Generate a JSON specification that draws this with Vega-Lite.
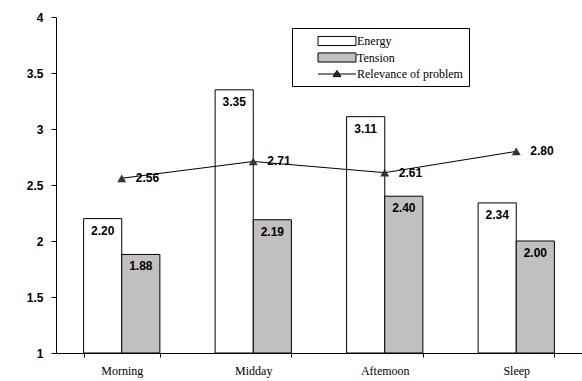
{
  "$schema": "https://vega.github.io/schema/vega-lite/v6.json",
  "width": 526,
  "height": 336,
  "autosize": {"type": "none"},
  "padding": {"left": 56, "top": 17, "right": 0, "bottom": 28},
  "background": "white",
  "config": {"view": {"stroke": null}},
  "datasets": {
    "bars": [
      {"period": "Morning", "series": "Energy", "value": 2.20},
      {"period": "Morning", "series": "Tension", "value": 1.88},
      {"period": "Midday", "series": "Energy", "value": 3.35},
      {"period": "Midday", "series": "Tension", "value": 2.19},
      {"period": "Aftemoon", "series": "Energy", "value": 3.11},
      {"period": "Aftemoon", "series": "Tension", "value": 2.40},
      {"period": "Sleep", "series": "Energy", "value": 2.34},
      {"period": "Sleep", "series": "Tension", "value": 2.00}
    ],
    "rel": [
      {"period": "Morning", "series": "Relevance of problem", "value": 2.56},
      {"period": "Midday", "series": "Relevance of problem", "value": 2.71},
      {"period": "Aftemoon", "series": "Relevance of problem", "value": 2.61},
      {"period": "Sleep", "series": "Relevance of problem", "value": 2.80}
    ]
  },
  "encoding": {
    "x": {
      "field": "period",
      "type": "nominal",
      "sort": ["Morning", "Midday", "Aftemoon", "Sleep"],
      "scale": {"paddingInner": 0.42, "paddingOuter": 0.21},
      "axis": {
        "title": null,
        "labelAngle": 0,
        "tickBand": "extent",
        "tickSize": 4,
        "tickColor": "black",
        "domainColor": "black",
        "labelFont": "Liberation Serif",
        "labelFontSize": 12,
        "labelColor": "black",
        "labelPadding": 8
      }
    },
    "y": {
      "field": "value",
      "type": "quantitative",
      "scale": {"domain": [1, 4], "zero": false, "nice": false},
      "axis": {
        "title": null,
        "values": [1, 1.5, 2, 2.5, 3, 3.5, 4],
        "format": "~g",
        "grid": false,
        "tickSize": 5,
        "tickColor": "black",
        "domainColor": "black",
        "labelFont": "Liberation Sans",
        "labelFontWeight": "bold",
        "labelFontSize": 12,
        "labelColor": "black",
        "labelPadding": 8
      }
    }
  },
  "layer": [
    {
      "data": {"name": "bars"},
      "mark": {"type": "bar", "stroke": "black", "strokeWidth": 1},
      "encoding": {
        "xOffset": {"field": "series", "type": "nominal", "sort": ["Energy", "Tension"]},
        "y2": {"datum": 1},
        "fill": {
          "field": "series",
          "type": "nominal",
          "scale": {
            "domain": ["Energy", "Tension", "Relevance of problem"],
            "range": ["white", "#c0c0c0", "#404040"]
          },
          "legend": {
            "title": null,
            "orient": "none",
            "legendX": 236,
            "legendY": 11,
            "strokeColor": "black",
            "fillColor": "white",
            "padding": 6,
            "symbolOffset": 32,
            "symbolSize": 169,
            "symbolStrokeColor": "black",
            "symbolStrokeWidth": 1,
            "rowPadding": 2.5,
            "labelOffset": 13,
            "labelLimit": 400,
            "labelFont": "Liberation Serif",
            "labelFontSize": 12,
            "labelColor": "black",
            "labelExpr": "datum.label + '\u00a0\u00a0\u00a0\u00a0\u00a0\u00a0\u00a0\u00a0\u00a0\u00a0\u00a0\u00a0\u00a0\u00a0\u00a0\u00a0\u00a0\u00a0\u00a0\u00a0\u00a0\u00a0'",
            "encode": {
              "symbols": {
                "update": {
                  "shape": {"signal": "datum.value === 'Relevance of problem' ? 'M-2.92,0H2.92M-0.6,0.4L0,-0.55L0.6,0.4Z' : 'M-2.92,-0.7H2.92V0.7H-2.92Z'"}
                }
              }
            }
          }
        }
      }
    },
    {
      "data": {"name": "bars"},
      "mark": {"type": "text", "baseline": "top", "dy": 7, "font": "Liberation Sans", "fontWeight": "bold", "fontSize": 12, "color": "black"},
      "encoding": {
        "xOffset": {"field": "series", "type": "nominal", "sort": ["Energy", "Tension"]},
        "text": {"field": "value", "type": "quantitative", "format": ".2f"}
      }
    },
    {
      "data": {"name": "rel"},
      "mark": {"type": "line", "color": "black", "strokeWidth": 1},
      "encoding": {}
    },
    {
      "data": {"name": "rel"},
      "mark": {"type": "point", "shape": "triangle-up", "filled": true, "color": "#333333", "size": 80, "opacity": 1},
      "encoding": {}
    },
    {
      "data": {"name": "rel"},
      "mark": {"type": "text", "align": "left", "dx": 14, "font": "Liberation Sans", "fontWeight": "bold", "fontSize": 12, "color": "black"},
      "encoding": {
        "text": {"field": "value", "type": "quantitative", "format": ".2f"}
      }
    }
  ]
}
